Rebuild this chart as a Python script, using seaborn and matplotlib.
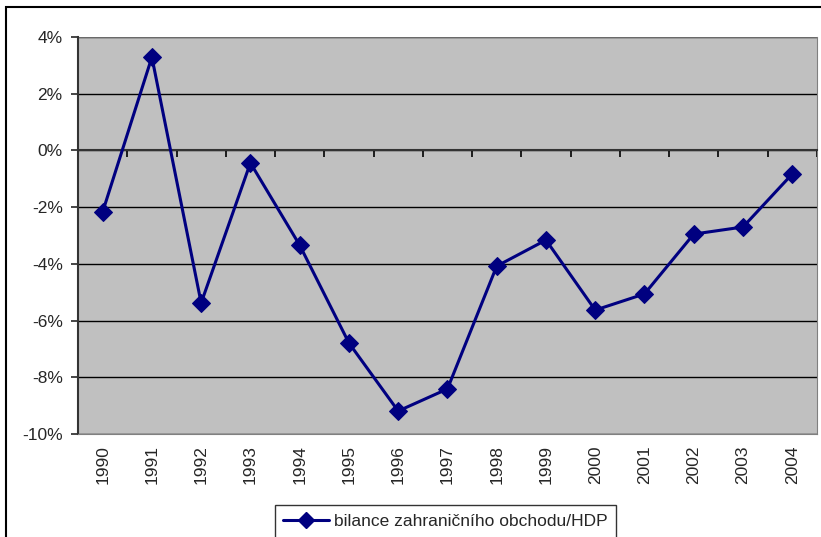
import numpy as np
import matplotlib.pyplot as plt
import matplotlib.patches as mpatches
import matplotlib.ticker as mticker
import pandas as pd
import seaborn as sns

years = ['1990', '1991', '1992', '1993', '1994', '1995', '1996', '1997',
         '1998', '1999', '2000', '2001', '2002', '2003', '2004']
bilance = [-2.17, 3.29, -5.38, -0.44, -3.34, -6.79, -9.19, -8.41,
           -4.08, -3.16, -5.63, -5.06, -2.95, -2.70, -0.83]
series_name = 'bilance zahraničního obchodu/HDP'

sns.set_style('white')
plt.rcParams['font.family'] = ['Liberation Sans', 'DejaVu Sans']
fs = 12.5

df = pd.DataFrame({'pos': np.arange(len(years)), 'value': np.array(bilance) / 100,
                   'serie': series_name})

fig = plt.figure(figsize=(8.21, 5.37), dpi=100)
ax = fig.add_axes([0.095, 0.1918, 0.9, 0.7393])
ax.set_facecolor('#c0c0c0')

sns.lineplot(data=df, x='pos', y='value', hue='serie', palette=['#000080'],
             marker='D', markersize=9, markeredgecolor='#000080',
             linewidth=2.2, ax=ax, legend=False, zorder=3)

ax.set_xlim(-0.5, len(years) - 0.5)
ax.set_ylim(-0.10, 0.04)
ax.set_yticks(np.arange(-0.10, 0.041, 0.02))
ax.yaxis.set_major_formatter(mticker.FuncFormatter(lambda v, p: f'{v*100:.0f}%'))
ax.grid(axis='y', color='black', linewidth=1)
ax.set_axisbelow(True)

# category labels at the bottom, ticks at boundaries on the zero line
ax.set_xticks(np.arange(len(years)))
ax.set_xticklabels(years)
ax.set_xticks(np.arange(-0.5, len(years)), minor=True)
ax.tick_params(axis='x', which='major', bottom=True, top=False, length=0,
               labelsize=fs, pad=8, labelbottom=True, labeltop=False,
               labelrotation=90)
ax.tick_params(axis='x', which='minor', bottom=False, top=True, direction='in',
               length=5, width=1.2, color='black', labeltop=False)
ax.spines['top'].set_position(('data', 0))
ax.spines['top'].set_color('#333333')
ax.spines['top'].set_linewidth(1.5)
ax.tick_params(axis='y', left=True, direction='out', length=5, width=1.2,
               labelsize=fs, pad=6)
ax.spines['left'].set_color('#333333')
ax.spines['left'].set_linewidth(1.5)
ax.spines['right'].set_color('#808080')
ax.spines['bottom'].set_color('#808080')
ax.set_xlabel('')
ax.set_ylabel('')

# plot area border top
ax.axhline(0.04, color='#808080', linewidth=1.2, zorder=2)

handle = plt.Line2D([], [], color='#000080', marker='D', markersize=8, linewidth=2.2)
leg = fig.legend([handle], [series_name], loc='upper center',
                 bbox_to_anchor=(0.5426, 32 / 537), fontsize=fs, frameon=True,
                 fancybox=False, edgecolor='black', handlelength=2.6,
                 handletextpad=0.3, borderpad=0.5, borderaxespad=0)
leg.get_frame().set_linewidth(1.0)

fig.add_artist(mpatches.Rectangle((6 / 821, -0.1), 1.2, (537 - 7) / 537 + 0.1,
                                  transform=fig.transFigure, fill=False,
                                  edgecolor='black', linewidth=1.5))

fig.savefig('out.png', dpi=100)
